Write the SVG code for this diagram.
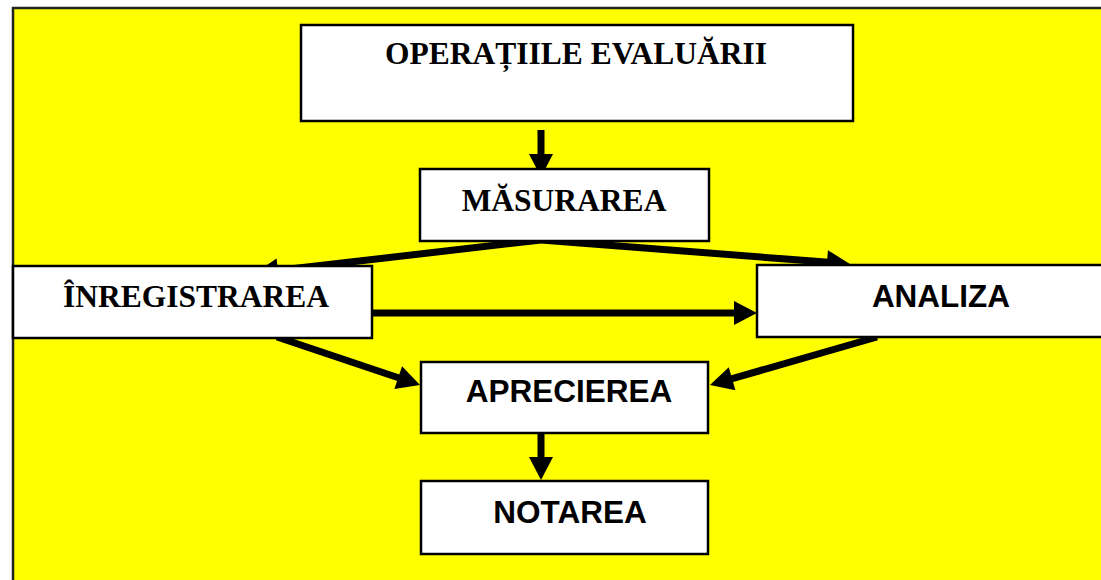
<svg xmlns="http://www.w3.org/2000/svg" width="1101" height="580" viewBox="0 0 1101 580">
<style>
.box{fill:#fff;stroke:#000;stroke-width:2.5}
.tr{font-family:"Liberation Serif","Times New Roman",serif;font-weight:bold;font-size:31.5px;fill:#000;text-anchor:middle}
.ar{font-family:"Liberation Sans",Arial,sans-serif;font-weight:bold;font-size:31.5px;fill:#000;text-anchor:middle}
.conn{stroke:#000;stroke-width:7;fill:none;marker-end:url(#ah)}
</style>
<defs>
<marker id="ah" markerUnits="userSpaceOnUse" markerWidth="24" markerHeight="24" refX="8" refY="12" orient="auto" viewBox="0 0 23 24">
<path d="M0,0 L23,12 L0,24 z" fill="#000"/>
</marker>
</defs>
<rect x="0" y="0" width="1101" height="580" fill="#fff"/>
<rect x="13" y="8" width="1100" height="590" fill="#ffff00" stroke="#222" stroke-width="2.5"/>
<g id="connectors">
<line class="conn" x1="541" y1="130" x2="541" y2="162"/>
<line class="conn" x1="541" y1="240" x2="270" y2="271.3"/>
<line class="conn" x1="541" y1="240" x2="835" y2="262.8"/>
<line class="conn" x1="372" y1="313" x2="742" y2="313"/>
<line class="conn" x1="277" y1="337" x2="405.8" y2="380.2"/>
<line class="conn" x1="877" y1="337" x2="724.4" y2="380.9"/>
<line class="conn" x1="541" y1="433" x2="541" y2="465"/>
</g>
<g id="node-operatiile">
<rect class="box" x="301" y="25" width="552" height="96"/>
<text class="tr" x="576" y="64">OPERAȚIILE EVALUĂRII</text>
</g>
<g id="node-masurarea">
<rect class="box" x="420" y="169" width="289" height="72"/>
<text class="tr" x="564" y="211">MĂSURAREA</text>
</g>
<g id="node-inregistrarea">
<rect class="box" x="13" y="266" width="359" height="72"/>
<text class="tr" x="196" y="307">ÎNREGISTRAREA</text>
</g>
<g id="node-analiza">
<rect class="box" x="757" y="265" width="360" height="72"/>
<text class="ar" x="941" y="307">ANALIZA</text>
</g>
<g id="node-aprecierea">
<rect class="box" x="421" y="362" width="287" height="71"/>
<text class="ar" x="569" y="402">APRECIEREA</text>
</g>
<g id="node-notarea">
<rect class="box" x="421" y="481" width="287" height="73"/>
<text class="ar" x="570" y="523">NOTAREA</text>
</g>
</svg>
